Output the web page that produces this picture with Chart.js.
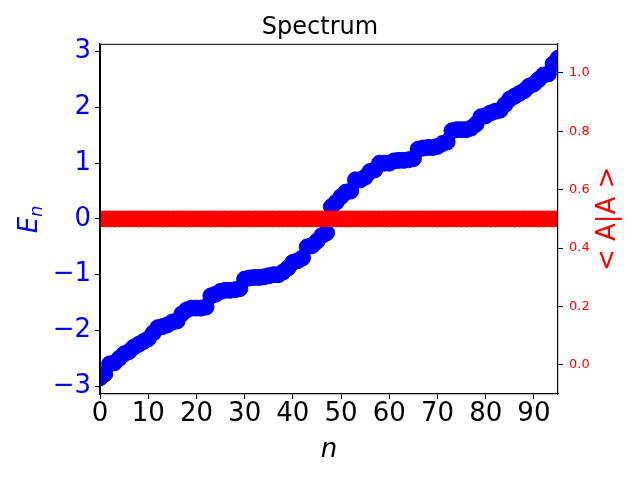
<!DOCTYPE html>
<html><head><meta charset="utf-8">
<script src="https://cdn.jsdelivr.net/npm/chart.js@4"></script>
<style>body{margin:0;background:#fff}#c{display:block}</style>
</head><body>
<canvas id="c" width="640" height="480"></canvas>
<script>
const energiesLow = [-2.85,-2.78,-2.6,-2.58,-2.5,-2.42,-2.38,-2.3,-2.25,-2.2,-2.15,-2.05,-1.95,-1.93,-1.9,-1.85,-1.83,-1.7,-1.63,-1.6,-1.6,-1.6,-1.58,-1.38,-1.35,-1.3,-1.28,-1.28,-1.27,-1.25,-1.08,-1.06,-1.05,-1.05,-1.04,-1.02,-1.0,-1.0,-0.95,-0.88,-0.78,-0.75,-0.7,-0.5,-0.48,-0.4,-0.3,-0.25];
const energiesHigh = [0.22,0.3,0.4,0.48,0.5,0.7,0.7,0.75,0.85,0.88,1.0,1.0,1.0,1.04,1.05,1.05,1.06,1.08,1.25,1.27,1.28,1.28,1.3,1.35,1.38,1.58,1.6,1.6,1.6,1.63,1.7,1.83,1.85,1.9,1.93,1.95,2.05,2.15,2.2,2.25,2.3,2.38,2.42,2.5,2.58,2.6,2.78,2.88];
const energies = energiesLow.concat(energiesHigh);
const overlaps = [0.5,0.5,0.5,0.5,0.5,0.5,0.5,0.5,0.5,0.5,0.5,0.5,0.5,0.5,0.5,0.5,0.5,0.5,0.5,0.5,0.5,0.5,0.5,0.5,0.5,0.5,0.5,0.5,0.5,0.5,0.5,0.5,0.5,0.5,0.5,0.5,0.5,0.5,0.5,0.5,0.5,0.5,0.5,0.5,0.5,0.5,0.5,0.5,0.5,0.5,0.5,0.5,0.5,0.5,0.5,0.5,0.5,0.5,0.5,0.5,0.5,0.5,0.5,0.5,0.5,0.5,0.5,0.5,0.5,0.5,0.5,0.5,0.5,0.5,0.5,0.5,0.5,0.5,0.5,0.5,0.5,0.5,0.5,0.5,0.5,0.5,0.5,0.5,0.5,0.5,0.5,0.5,0.5,0.5,0.5,0.5];
const xTicks = [0,10,20,30,40,50,60,70,80,90];
const leftTicks = [-3,-2,-1,0,1,2,3];
const rightTicks = [0.0,0.2,0.4,0.6,0.8,1.0];
const F = 'DejaVu Sans';
const toPts = arr => arr.map((v,i)=>({x:i,y:v}));
const grid = {display:true, drawOnChartArea:false, color:'#000', tickLength:5, tickWidth:1};
new Chart(document.getElementById('c'), {
  type:'scatter',
  data:{datasets:[
    {data:toPts(energies), yAxisID:'y', backgroundColor:'#0000ff', borderColor:'#0000ff', pointRadius:8, pointHoverRadius:8, clip:0, order:1},
    {data:toPts(overlaps), yAxisID:'y2', backgroundColor:'#ff0000', borderColor:'#ff0000', pointRadius:8, pointHoverRadius:8, clip:0, order:0}
  ]},
  options:{
    responsive:false, animation:false, devicePixelRatio:1,
    layout:{padding:0},
    plugins:{legend:{display:false}, tooltip:{enabled:false},
      title:{display:true, text:'Spectrum', color:'#000', font:{family:F,size:24,weight:'normal'}, padding:{top:13,bottom:2}}},
    scales:{
      x:{type:'linear', min:0, max:95, grid:grid, border:{color:'#000',width:1.2},
        afterBuildTicks:s=>{s.ticks=xTicks.map(v=>({value:v}));},
        afterFit:s=>{s.height=86;},
        ticks:{color:'#000', font:{family:F,size:26}, padding:0, maxRotation:0}},
      y:{type:'linear', position:'left', min:-3.14, max:3.14, grid:grid, border:{color:'#000',width:1.2},
        afterBuildTicks:s=>{s.ticks=leftTicks.map(v=>({value:v}));},
        afterFit:s=>{s.width=100;},
        ticks:{color:'#0000ff', font:{family:F,size:26}, padding:4, callback:v=>v<0?'\u2212'+Math.abs(v):String(v)}},
      y2:{type:'linear', position:'right', min:-0.1, max:1.1, grid:grid, border:{color:'#000',width:1.2},
        afterBuildTicks:s=>{s.ticks=rightTicks.map(v=>({value:v}));},
        afterFit:s=>{s.width=82;},
        ticks:{color:'#ff0000', font:{family:F,size:13}, padding:6, callback:v=>v.toFixed(1)}}
    }
  },
  plugins:[{id:'frame',afterDraw(c){const a=c.chartArea,x=c.ctx;x.save();x.strokeStyle='#000';x.lineWidth=1;x.strokeRect(a.left+0.5,a.top+0.5,a.right-a.left-1,a.bottom-a.top-1);
    const cy=(a.top+a.bottom)/2;
    x.textAlign='center';x.textBaseline='middle';
    x.fillStyle='#000';x.font='italic 26px '+F;x.fillText('n',(a.left+a.right)/2,450);
    x.save();x.translate(30,cy);x.rotate(-Math.PI/2);x.fillStyle='#0000ff';
    x.font='italic 26px '+F;x.textAlign='right';x.fillText('E',2,0);x.font='italic 18px '+F;x.textAlign='left';x.fillText('n',2,7);x.restore();
    x.save();x.translate(608,cy);x.rotate(-Math.PI/2);x.fillStyle='#ff0000';x.font='26px '+F;x.textAlign='center';x.fillText('< A|A >',0,0);x.restore();
    x.restore();}}]
});
</script>
</body></html>
